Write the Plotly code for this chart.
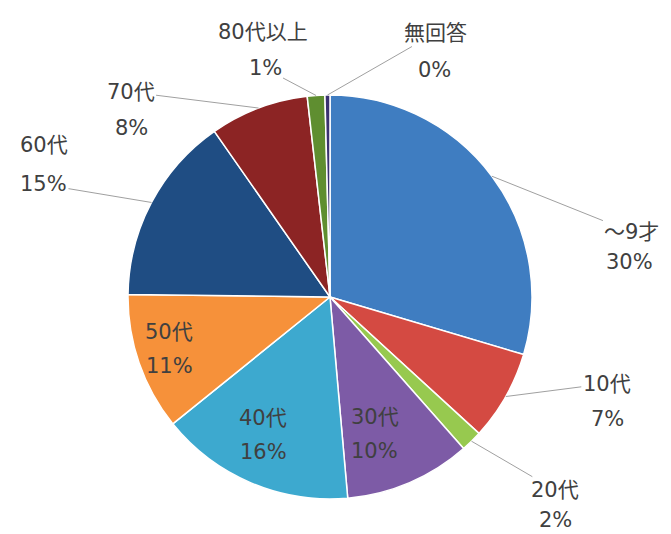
import math
import plotly.graph_objects as go

labels = ["～9才", "10代", "20代", "30代", "40代", "50代", "60代", "70代", "80代以上", "無回答"]
values = [29.6, 7.2, 1.7, 10.1, 15.6, 11.0, 15.1, 7.9, 1.4, 0.4]
colors = ["#3F7DC1", "#D44A42", "#97C94F", "#7D5BA6", "#3DA9CF", "#F6913A",
          "#1F4D83", "#8C2424", "#5F8E30", "#3A3170"]

W, H = 671, 534
OFF = 8  # page body margin
cx, cy, R = 330, 297, 202


def px2paper(x, y):
    return (x - OFF) / W, 1 - (y - OFF) / H


# label rows: (name-row offset, percent-row offset, row the leader line meets)
outside_rows = {
    "～9才": ((140, 56), (138, 86), 0),
    "10代": ((101, -13), (102, 22), 0),
    "20代": ((84, 49), (84, 79), 0),
    "70代": ((-128, -16), (-127, 20), 0),
    "60代": ((-107, -57), (-108, -18), 1),
    "80代以上": ((-53, -63), (-51, -27), 1),
    "無回答": ((108, -62), (107, -25), 0),
}
inside_pos = {"30代": (0.74, -14), "40代": (0.74, -8), "50代": (0.78, -12)}

x0, y1 = px2paper(cx - R, cy - R)
x1, y0 = px2paper(cx + R, cy + R)
fig = go.Figure(go.Pie(
    labels=labels, values=values, sort=False, direction="clockwise", rotation=0,
    marker=dict(colors=colors, line=dict(color="white", width=1.5)),
    textinfo="none", hoverinfo="label+percent", showlegend=False,
    domain=dict(x=[x0, x1], y=[y0, y1]),
))

total = sum(values)
cum = 0.0
font = dict(family="DejaVu Sans, Noto Sans CJK JP", size=21, color="#404040")
for lab, v in zip(labels, values):
    mid = (cum + v / 2) / total
    cum += v
    ang = 2 * math.pi * mid
    pct = round(100 * v / total)
    texts = [lab, f"{pct}%"]
    if lab in outside_rows:
        ex = cx + R * math.sin(ang)
        ey = cy - R * math.cos(ang)
        xp, yp = px2paper(ex, ey)
        r1, r2, line_row = outside_rows[lab]
        for i, (t, (ax, ay)) in enumerate(zip(texts, (r1, r2))):
            fig.add_annotation(x=xp, y=yp, xref="paper", yref="paper",
                               text=t, showarrow=True, arrowhead=0, arrowwidth=1,
                               arrowcolor="#A0A0A0" if i == line_row else "rgba(0,0,0,0)",
                               ax=ax, ay=ay, font=font,
                               xanchor="center", yanchor="middle")
    else:
        rf, xs = inside_pos[lab]
        px = cx + rf * R * math.sin(ang) + xs
        py = cy - rf * R * math.cos(ang)
        for t, dy in zip(texts, (-17, 17)):
            xp, yp = px2paper(px, py + dy)
            fig.add_annotation(x=xp, y=yp, xref="paper", yref="paper",
                               text=t, showarrow=False, font=font,
                               xanchor="center", yanchor="middle")

fig.update_layout(width=W, height=H, margin=dict(l=0, r=0, t=0, b=0),
                  paper_bgcolor="white", plot_bgcolor="white")
fig.write_html("out.html")
